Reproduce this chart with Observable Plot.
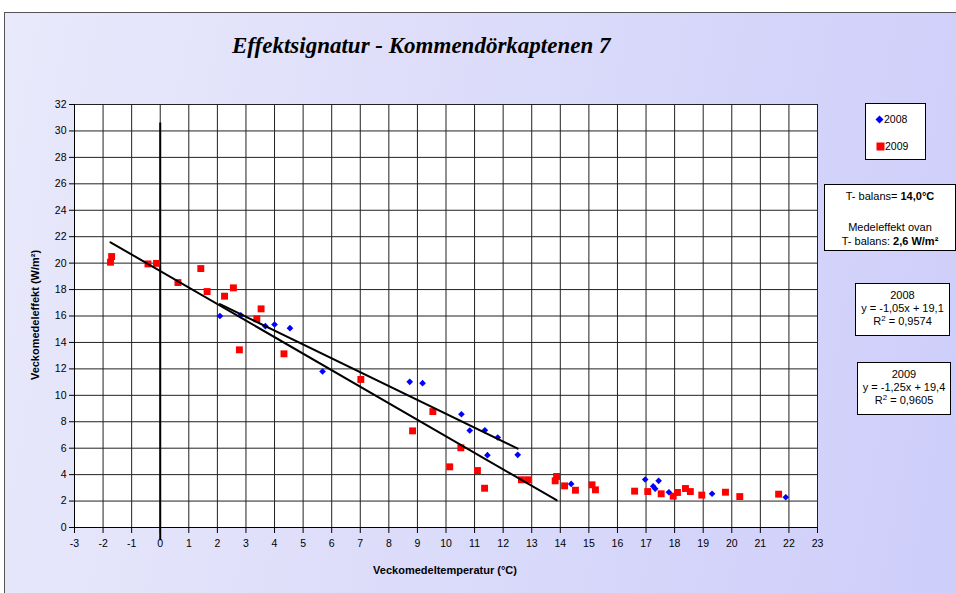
<!DOCTYPE html>
<html><head><meta charset="utf-8">
<script src="https://cdn.jsdelivr.net/npm/d3@7"></script>
<script src="https://cdn.jsdelivr.net/npm/@observablehq/plot@0.6"></script>
<style>
body{margin:0;background:#fff;}
#wrap{position:relative;width:956px;height:593px;overflow:hidden;font-family:"Liberation Sans",Arial,sans-serif;color:#000;}
#frame{position:absolute;left:4px;top:12px;width:960px;height:600px;border-left:1px solid #555;border-top:1px solid #555;background:linear-gradient(100deg,#e9e9fb 0%,#cdcdfa 100%);}
#chart{position:absolute;left:0;top:0;}
#title{position:absolute;left:232px;top:33px;font-family:"Liberation Serif",serif;font-weight:bold;font-style:italic;font-size:23px;white-space:nowrap;}
.axt{position:absolute;font-weight:bold;font-size:11px;white-space:nowrap;}
.box{position:absolute;background:#fff;border:1px solid #000;font-size:11px;text-align:center;line-height:13px;box-sizing:border-box;}
sup{font-size:8px;vertical-align:4px;line-height:0;}
</style></head><body>
<div id="wrap">
<div id="frame"></div>
<div id="chart"></div>
<div id="title">Effektsignatur - Kommendörkaptenen 7</div>
<div class="axt" id="xt" style="left:445px;top:564px;transform:translateX(-50%);">Veckomedeltemperatur (°C)</div>
<div class="axt" id="yt" style="left:35px;top:315px;transform:translate(-50%,-50%) rotate(-90deg);">Veckomedeleffekt (W/m²)</div>
<div class="box" id="legend" style="left:865px;top:103px;width:61px;height:57px;text-align:left;font-size:10.5px;"></div>
<div class="box" style="left:824px;top:184px;width:132px;height:67px;line-height:14px;padding-top:4px;">
  <div>T- balans= <b id="tb"></b></div>
  <div style="margin-top:17px;">Medeleffekt ovan</div>
  <div>T- balans: <b id="me"></b></div>
</div>
<div class="box" id="eq0" style="left:855px;top:283px;width:95px;height:53px;padding-top:5px;"></div>
<div class="box" id="eq1" style="left:857px;top:362px;width:94px;height:53px;padding-top:5px;"></div>
</div>
<script>
// ---- data ----
const xTicks = [-3,-2,-1,0,1,2,3,4,5,6,7,8,9,10,11,12,13,14,15,16,17,18,19,20,21,22,23];
const yTicks = [0,2,4,6,8,10,12,14,16,18,20,22,24,26,28,30,32];
const years = ["2008", "2009"];
const colors = ["#0000ff", "#ff0000"];
const x2008 = [2.09, 2.82, 3.68, 4.00, 4.54, 5.68, 8.73, 9.18, 10.54, 10.83, 11.36, 11.81, 11.45, 12.51, 14.38, 16.97, 17.44, 17.25, 17.32, 17.80, 19.31, 21.89];
const y2008 = [16.0, 16.06, 15.23, 15.36, 15.08, 11.8, 11.02, 10.92, 8.57, 7.34, 7.36, 6.81, 5.47, 5.50, 3.30, 3.63, 3.53, 3.12, 2.93, 2.67, 2.55, 2.29];
const x2009 = [-1.74, -1.70, -0.43, -0.13, 0.62, 1.42, 1.64, 2.25, 2.56, 2.77, 3.38, 3.53, 4.33, 7.02, 8.83, 9.54, 10.52, 10.13, 11.10, 11.35, 12.64, 12.88, 13.82, 13.87, 14.15, 14.53, 15.11, 15.23, 16.60, 17.06, 17.53, 17.95, 18.10, 18.38, 18.55, 18.95, 19.78, 20.28, 21.64];
const y2009 = [20.07, 20.5, 19.94, 19.98, 18.53, 19.59, 17.85, 17.50, 18.13, 13.44, 15.79, 16.54, 13.14, 11.2, 7.31, 8.77, 6.03, 4.59, 4.31, 2.97, 3.61, 3.61, 3.53, 3.86, 3.15, 2.82, 3.23, 2.85, 2.75, 2.72, 2.55, 2.37, 2.65, 2.95, 2.72, 2.45, 2.67, 2.34, 2.52];
const slopes = [-1.05, -1.25];
const intercepts = [19.1, 19.4];
const r2 = ["0,9574", "0,9605"];
const balanceTemp = 14.0;
const meanAbove = "2,6 W/m²";
const zeroLineY = [-1, 30.6];

// ---- build ----
const d2008 = x2008.map((x, i) => ({x, y: y2008[i]}));
const d2009 = x2009.map((x, i) => ({x, y: y2009[i]}));
const sets = [d2008, d2009];
const trend = [];
sets.forEach((d, k) => {
  const ext = d3.extent(d.filter(p => p.x < balanceTemp), p => p.x);
  ext.forEach(x => trend.push({year: years[k], x, y: slopes[k] * x + intercepts[k]}));
});

const chart = Plot.plot({
  width: 956, height: 593,
  marginLeft: 74, marginRight: 139, marginTop: 104, marginBottom: 66,
  style: {background: "transparent", fontFamily: "Liberation Sans, Arial, sans-serif", fontSize: "10.5px", color: "#000"},
  x: {domain: [-3, 23]},
  y: {domain: [0, 32]},
  marks: [
    Plot.frame({fill: "white", stroke: null}),
    Plot.ruleX(xTicks, {stroke: "#222", strokeWidth: 1}),
    Plot.ruleY(yTicks, {stroke: "#222", strokeWidth: 1}),
    Plot.ruleX([xTicks[0]], {stroke: "#000"}),
    Plot.ruleY([yTicks[0]], {stroke: "#000"}),
    Plot.axisX({ticks: xTicks, tickSize: 6, tickPadding: 6, tickFormat: d => String(d), label: null}),
    Plot.axisY({ticks: yTicks, tickSize: 5, tickPadding: 3, tickFormat: d => String(d), label: null}),
    Plot.ruleX([0], {y1: zeroLineY[0], y2: zeroLineY[1], stroke: "#000", strokeWidth: 2}),
    Plot.dot(d2009, {x: "x", y: "y", symbol: "square", r: 3.9, fill: colors[1], stroke: "none"}),
    Plot.dot(d2008, {x: "x", y: "y", symbol: "diamond2", r: 3, fill: colors[0], stroke: "none"}),
    Plot.line(trend, {x: "x", y: "y", z: "year", stroke: "#000", strokeWidth: 2})
  ]
});
document.getElementById("chart").appendChild(chart);

// legend & text boxes
const leg = document.getElementById("legend");
leg.innerHTML =
  `<div style="position:absolute;left:9px;top:9px;"><svg width="9" height="9" style="vertical-align:-1px"><path d="M4.5 0.5L8.5 4.5L4.5 8.5L0.5 4.5Z" fill="${colors[0]}"/></svg>${years[0]}</div>` +
  `<div style="position:absolute;left:10px;top:36px;"><svg width="9" height="9" style="vertical-align:-1px"><rect x="0.5" y="0.5" width="8" height="8" fill="${colors[1]}"/></svg>${years[1]}</div>`;
document.getElementById("tb").textContent = balanceTemp.toFixed(1).replace(".", ",") + "°C";
document.getElementById("me").textContent = meanAbove;
years.forEach((yr, k) => {
  const f = v => v.toFixed(2).replace(".", ",");
  const b = v => v.toFixed(1).replace(".", ",");
  document.getElementById("eq" + k).innerHTML =
    `<div>${yr}</div><div>y = ${f(slopes[k])}x + ${b(intercepts[k])}</div><div>R<sup>2</sup> = ${r2[k]}</div>`;
});
</script>
</body></html>
